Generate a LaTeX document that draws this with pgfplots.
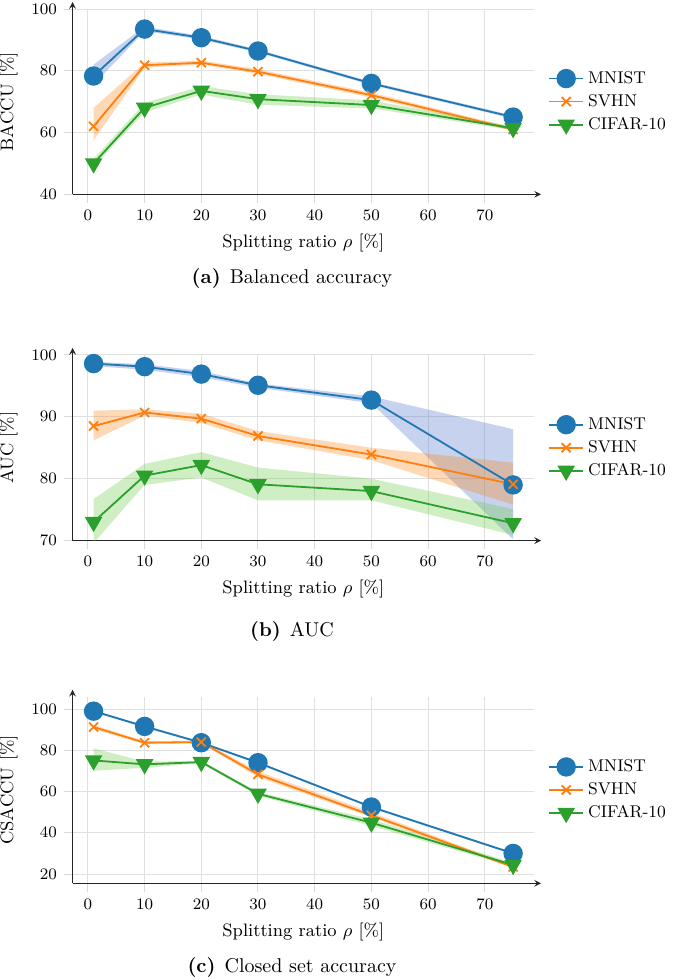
\documentclass[border=0pt]{standalone}
\usepackage{pgfplots}
\pgfplotsset{compat=1.18}
\definecolor{cblue}{HTML}{1F77B4}
\definecolor{corange}{HTML}{FF7F0E}
\definecolor{cgreen}{HTML}{2CA02C}
\definecolor{bblue}{RGB}{70,110,200}
\definecolor{borange}{RGB}{255,127,14}
\definecolor{bgreen}{RGB}{100,200,60}
\pgfplotsset{
  myaxis/.style={
    scale only axis, width=230.75pt,
    axis lines=left,
    xmin=-2.7, xmax=78.7,
    xtick={0,10,...,70},
    grid=major,
    grid style={draw=black!12, line width=0.5pt},
    tick align=outside,
    major tick length=4.3pt,
    tick style={draw=black!15, line width=0.5pt},
    axis line style={draw=black!85, line width=0.5pt, shorten >=-3.5pt},
    tick label style={font=\fontsize{7.9}{9.5}\selectfont},
    label style={font=\fontsize{9}{10.8}\selectfont},
    xlabel={Splitting ratio $\rho$ [\%]},
    legend style={draw=none, fill=none, at={(axis description cs:1,0.5)}, anchor=west, xshift=3.85pt, font=\fontsize{8.5}{10.2}\selectfont},
    legend cell align=left,
  },
  mn/.style={cblue, line width=0.9pt, mark=*, mark size=4.4pt, mark options={solid}},
  sv/.style={corange, line width=0.9pt, mark=x, mark size=3.2pt, mark options={solid}},
  ci/.style={cgreen, line width=0.9pt, mark=triangle*, mark size=4.2pt, mark options={solid, rotate=180}},
  bandb/.style={fill=bblue, fill opacity=0.3, draw=none, forget plot},
  bando/.style={fill=borange, fill opacity=0.3, draw=none, forget plot},
  bandg/.style={fill=bgreen, fill opacity=0.3, draw=none, forget plot},
}
\begin{document}
\begin{tikzpicture}
\useasboundingbox (0,0) rectangle (342.5pt,-490pt);
% (a) Balanced accuracy
\begin{axis}[myaxis, at={(36.3pt,-97.15pt)}, anchor=south west, height=92.65pt,
  ymin=40, ymax=100, ytick={40,60,80,100}, ylabel={BACCU [\%]}]
\addplot[bandb] coordinates {(1,82) (10,94.3) (20,91.3) (30,86.9) (50,76.4) (75,65.5) (75,64.5) (50,75.4) (30,85.9) (20,90.1) (10,92.8) (1,75.5)} -- cycle;
\addplot[bando] coordinates {(1,68) (10,82.6) (20,83.3) (30,80.5) (50,72.9) (75,61.6) (75,60.5) (50,71.3) (30,79) (20,82) (10,81) (1,57.5)} -- cycle;
\addplot[bandg] coordinates {(1,51.5) (10,69.6) (20,75) (30,72.4) (50,70.4) (75,62) (75,60.8) (50,67.8) (30,69) (20,72.3) (10,66.5) (1,49)} -- cycle;
\addplot[mn] coordinates {(1,78.3) (10,93.5) (20,90.7) (30,86.4) (50,75.9) (75,65.0)};
\addplot[sv] coordinates {(1,62.0) (10,81.8) (20,82.6) (30,79.7) (50,72.1) (75,61.0)};
\addplot[ci] coordinates {(1,50.0) (10,68.0) (20,73.5) (30,70.8) (50,68.9) (75,61.4)};
\legend{MNIST, SVHN, CIFAR-10}
\end{axis}
% (b) AUC
\begin{axis}[myaxis, at={(36.3pt,-270.3pt)}, anchor=south west, height=92.85pt,
  ymin=70, ymax=100, ytick={70,80,90,100}, ylabel={AUC [\%]}]
\addplot[bandb] coordinates {(1,98.9) (10,98.5) (20,97.4) (30,95.4) (50,93.3) (75,88) (75,70.2) (50,92.2) (30,94.7) (20,96.4) (10,97.6) (1,98.2)} -- cycle;
\addplot[bando] coordinates {(1,91) (10,91.2) (20,90.5) (30,87.7) (50,85) (75,82.6) (75,75.8) (50,83) (30,86.2) (20,89) (10,90.2) (1,86.2)} -- cycle;
\addplot[bandg] coordinates {(1,76.7) (10,82.4) (20,84.3) (30,81.8) (50,80) (75,75.1) (75,70.9) (50,76.5) (30,76.5) (20,80.2) (10,79) (1,69.6)} -- cycle;
\addplot[mn] coordinates {(1,98.6) (10,98.1) (20,96.9) (30,95.1) (50,92.7) (75,79.0)};
\addplot[sv] coordinates {(1,88.5) (10,90.7) (20,89.7) (30,86.9) (50,83.9) (75,79.1)};
\addplot[ci] coordinates {(1,73.0) (10,80.5) (20,82.2) (30,79.1) (50,78.0) (75,72.8)};
\legend{MNIST, SVHN, CIFAR-10}
\end{axis}
% (c) Closed set accuracy
\begin{axis}[myaxis, at={(36.3pt,-441.65pt)}, anchor=south west, height=93.3pt,
  ymin=15.5, ymax=106, ytick={20,40,60,80,100}, ylabel={CSACCU [\%]}]
\addplot[bandb] coordinates {(1,99.5) (10,92.1) (20,84.2) (30,74.5) (50,53) (75,30.5) (75,29.5) (50,52) (30,73.5) (20,83.2) (10,91.1) (1,98.5)} -- cycle;
\addplot[bando] coordinates {(1,92.3) (10,84.5) (20,84.7) (30,69.8) (50,50) (75,24) (75,23) (50,47.5) (30,67) (20,83.3) (10,83) (1,90.3)} -- cycle;
\addplot[bandg] coordinates {(1,81) (10,74.5) (20,75) (30,59.8) (50,46.5) (75,25.5) (75,23.5) (50,43.3) (30,58) (20,73.8) (10,71.5) (1,70.1)} -- cycle;
\addplot[mn] coordinates {(1,99.0) (10,91.6) (20,83.7) (30,74.0) (50,52.5) (75,30.0)};
\addplot[sv] coordinates {(1,91.3) (10,83.7) (20,84.0) (30,68.3) (50,48.5) (75,23.4)};
\addplot[ci] coordinates {(1,75.1) (10,73.2) (20,74.3) (30,58.9) (50,44.9) (75,24.4)};
\legend{MNIST, SVHN, CIFAR-10}
\end{axis}
\node[font=\fontsize{10}{12}\selectfont] at (146pt,-139pt) {\textbf{(a)}\hspace{4.5pt}Balanced accuracy};
\node[font=\fontsize{10}{12}\selectfont] at (146pt,-315.8pt) {\textbf{(b)}\hspace{4.5pt}AUC};
\node[font=\fontsize{10}{12}\selectfont] at (146pt,-483.5pt) {\textbf{(c)}\hspace{4.5pt}Closed set accuracy};
\end{tikzpicture}
\end{document}
